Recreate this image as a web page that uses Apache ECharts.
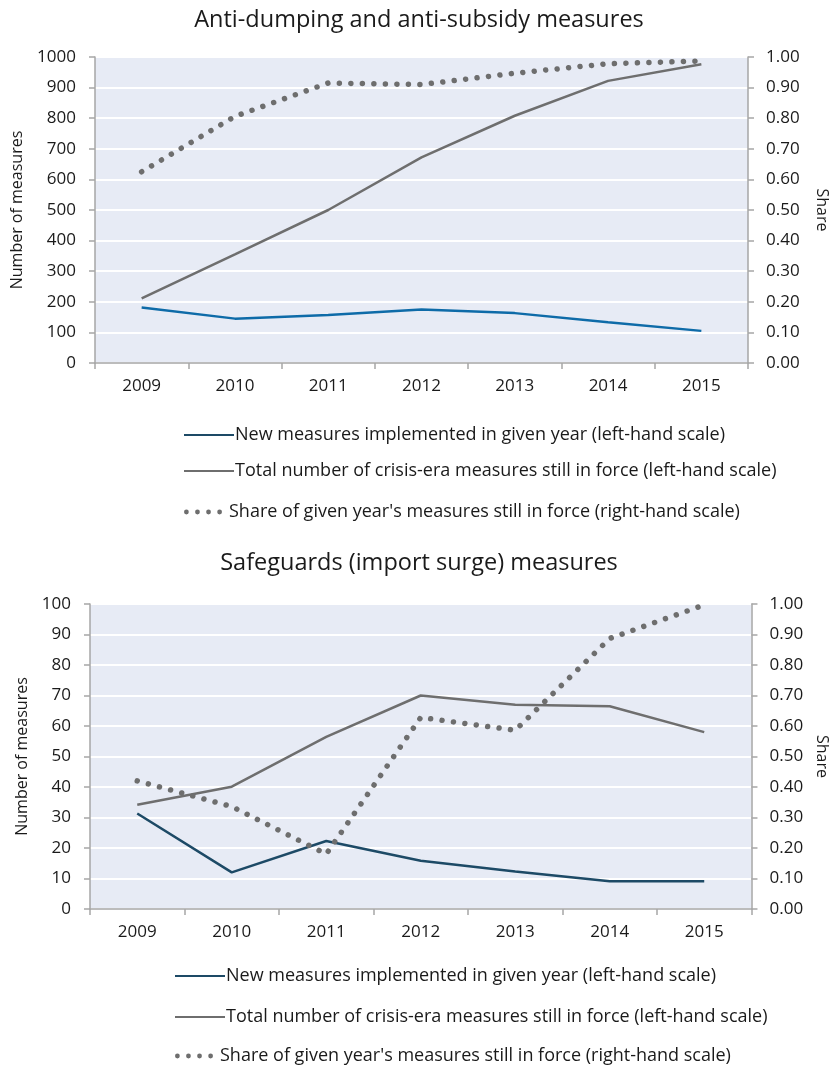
<!DOCTYPE html>
<html><head><meta charset="utf-8">
<script src="https://cdn.jsdelivr.net/npm/echarts@6/dist/echarts.min.js"></script>
<style>html,body{margin:0;padding:0;background:#fff}#c{width:838px;height:1068px}</style>
</head><body><div id="c"></div>
<script>
const years = ['2009','2010','2011','2012','2013','2014','2015'];
// Chart 1: Anti-dumping and anti-subsidy measures
const adNew = [181, 145, 157, 175, 163, 133, 105];
const adTotal = [211, 355, 500, 672, 808, 922, 976];
const adShare = [0.625, 0.806, 0.915, 0.910, 0.947, 0.978, 0.987];
// Chart 2: Safeguards (import surge) measures
const sgNew = [31.3, 12.0, 22.3, 15.8, 12.3, 9.1, 9.1];
const sgTotal = [34.2, 40.1, 56.4, 70.0, 67.0, 66.5, 58.0];
const sgShare = [0.42, 0.336, 0.18, 0.628, 0.586, 0.887, 0.997];
const leftTicks1 = {min:0, max:1000, interval:100};
const leftTicks2 = {min:0, max:100, interval:10};
const rightTicks = {min:0, max:1, interval:0.1};
const titles = ['Anti-dumping and anti-subsidy measures', 'Safeguards (import surge) measures'];
const names = ['New measures implemented in given year (left-hand scale)',
               'Total number of crisis-era measures still in force (left-hand scale)',
               "Share of given year's measures still in force (right-hand scale)"];

const FONT = '"Open Sans", "Noto Sans", sans-serif';
const TXT = '#1a1a1a';
const AX = '#a6a6a6';
const GRAY = '#6e6e6e';
const BLUE1 = '#0e6ba8';
const TEAL = '#1d4a66';
const BG = '#e7ebf5';
const TICKFS = 17;

function xAx(i){
  return {type:'category', gridIndex:i, data:years, boundaryGap:true,
    axisLine:{lineStyle:{color:AX, width:1.5}},
    axisTick:{show:true, length:6, lineStyle:{color:AX, width:1.5}},
    axisLabel:{color:TXT, fontFamily:FONT, fontSize:TICKFS, margin:15}};
}
function yL(i, t, gap){
  return Object.assign({type:'value', gridIndex:i, position:'left',
    name:'Number of measures', nameLocation:'middle', nameGap:gap, nameRotate:90,
    nameTextStyle:{color:TXT, fontFamily:FONT, fontSize:16},
    axisLine:{show:true, lineStyle:{color:AX, width:1.5}},
    axisTick:{show:true, length:6, lineStyle:{color:AX, width:1.5}},
    splitLine:{show:true, lineStyle:{color:'#ffffff', width:2}},
    axisLabel:{color:TXT, fontFamily:FONT, fontSize:TICKFS, margin:19, formatter:v=>String(v)}}, t);
}
function yR(i, gap){
  return Object.assign({type:'value', gridIndex:i, position:'right',
    name:'Share', nameLocation:'middle', nameGap:gap, nameRotate:-90,
    nameTextStyle:{color:TXT, fontFamily:FONT, fontSize:16},
    axisLine:{show:true, lineStyle:{color:AX, width:1.5}},
    axisTick:{show:true, length:6, lineStyle:{color:AX, width:1.5}},
    splitLine:{show:false},
    axisLabel:{color:TXT, fontFamily:FONT, fontSize:TICKFS, margin:18, formatter:v=>v.toFixed(2)}}, rightTicks);
}
function solid(name, data, xi, yi, color){
  return {name, type:'line', xAxisIndex:xi, yAxisIndex:yi, data, symbol:'none',
    lineStyle:{color, width:2.5}, itemStyle:{color}};
}
function dotted(name, data, xi, yi){
  return {name, type:'line', xAxisIndex:xi, yAxisIndex:yi, data, symbol:'none',
    lineStyle:{color:GRAY, width:5.5, type:[0.01, 11.5], cap:'round'}, itemStyle:{color:GRAY}};
}
const LINEICON = 'path://M0,6H50V8H0Z';
const DOTICON = 'path://M2,7a2.6,2.6 0 1,0 0.01,0ZM14,7a2.6,2.6 0 1,0 0.01,0ZM26,7a2.6,2.6 0 1,0 0.01,0ZM38,7a2.6,2.6 0 1,0 0.01,0Z';
function oneLegend(name, icon, color, left, cy, w, padLeft){
  return {orient:'horizontal', left, top:cy-11, itemWidth:w, itemHeight: icon===DOTICON?6:14, itemGap:0,
    textStyle:{color:TXT, fontFamily:FONT, fontSize:18, padding:[0,0,0,padLeft]},
    selectedMode:false,
    data:[{name, icon, itemStyle:{color}}]};
}
function legendsFor(i, left, ys){
  const s = i ? ' ' : '';
  return [
    oneLegend(names[0]+s, LINEICON, TEAL, left, ys[0], 50, -4),
    oneLegend(names[1]+s, LINEICON, GRAY, left, ys[1], 50, -4),
    oneLegend(names[2]+s, DOTICON, GRAY, left, ys[2], 38, 2)
  ];
}

const option = {
  backgroundColor:'#ffffff',
  animation:false,
  title:[
    {text:titles[0], left:'center', top:3, textStyle:{color:TXT, fontFamily:FONT, fontSize:23.5, fontWeight:'normal'}},
    {text:titles[1], left:'center', top:546, textStyle:{color:TXT, fontFamily:FONT, fontSize:23.5, fontWeight:'normal'}}
  ],
  grid:[
    {left:95, right:81, top:57, height:306, show:true, backgroundColor:BG, borderWidth:0},
    {left:90, right:85, top:604, height:305, show:true, backgroundColor:BG, borderWidth:0}
  ],
  xAxis:[xAx(0), xAx(1)],
  yAxis:[yL(0, leftTicks1, 70), yR(0, 66), yL(1, leftTicks2, 60), yR(1, 60)],
  legend:[].concat(legendsFor(0, 179, [432, 468, 509]), legendsFor(1, 170, [973, 1014, 1053])),
  series:[
    solid(names[0], adNew, 0, 0, BLUE1),
    solid(names[1], adTotal, 0, 0, GRAY),
    dotted(names[2], adShare, 0, 1),
    solid(names[0]+' ', sgNew, 1, 2, TEAL),
    solid(names[1]+' ', sgTotal, 1, 2, GRAY),
    dotted(names[2]+' ', sgShare, 1, 3)
  ]
};
const chart = echarts.init(document.getElementById('c'), null, {renderer:'canvas'});
chart.setOption(option);
</script></body></html>
